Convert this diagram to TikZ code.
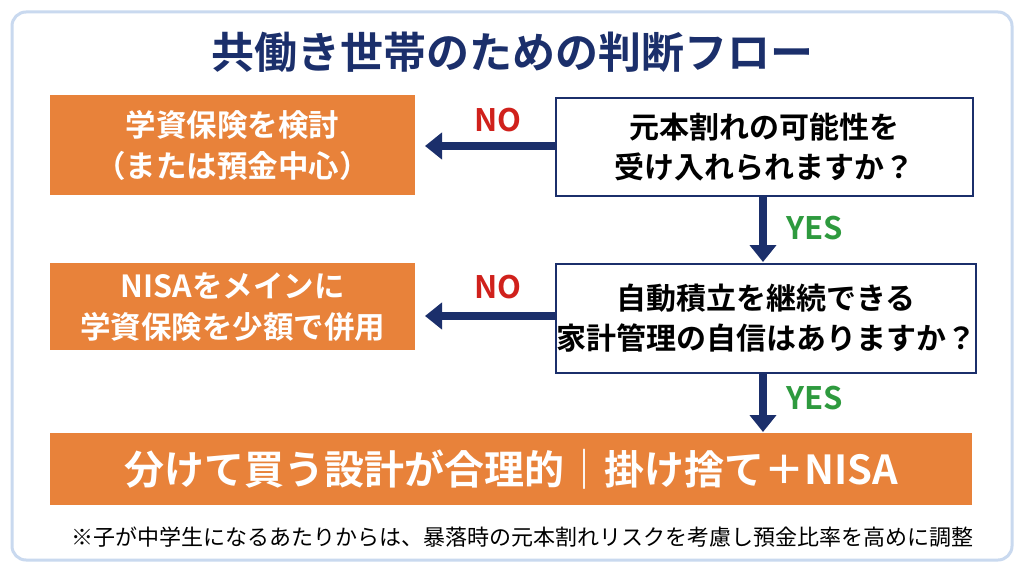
\documentclass[tikz,border=0pt]{standalone}
\usepackage{fontspec}
\setmainfont{Noto Sans CJK JP}[BoldFont={Noto Sans CJK JP Bold}]
\usetikzlibrary{arrows.meta}
\definecolor{navy}{HTML}{1B2F6B}
\definecolor{org}{HTML}{E8823A}
\definecolor{bord}{HTML}{C9D9EF}
\definecolor{nored}{HTML}{D0211C}
\definecolor{yesg}{HTML}{2E9A3E}
\begin{document}
\begin{tikzpicture}[x=1pt,y=-1pt,
  obox/.style={fill=org,draw=none,text=white,font=\bfseries\fontsize{30.5}{41}\selectfont,align=center,anchor=north west,inner sep=0},
  qbox/.style={fill=white,draw=navy,line width=2pt,font=\bfseries\fontsize{30}{40}\selectfont,align=center,anchor=north west,inner sep=0},
  arr/.style={draw=navy,line width=8pt,-{Triangle[length=17pt,width=26pt]}},
  lab/.style={font=\bfseries\fontsize{31}{34}\selectfont}]
\useasboundingbox (0,0) rectangle (1024,572);
\fill[white] (0,0) rectangle (1024,572);
\draw[bord,line width=3pt,rounded corners=14pt,fill=white] (12,12) rectangle (1012,560);
\node[font=\bfseries\fontsize{43}{50}\selectfont,text=navy] (title) at (512,52) {共働き世帯のための判断フロー};
\node[obox,minimum width=365pt,minimum height=100pt] (a1) at (50,95) {学資保険を検討\\（または預金中心）};
\node[qbox,minimum width=417pt,minimum height=98pt] (q1) at (555,97) {元本割れの可能性を\\受け入れられますか？};
\node[obox,minimum width=365pt,minimum height=87pt] (a2) at (50,263) {NISAをメインに\\学資保険を少額で併用};
\node[qbox,minimum width=417pt,minimum height=109pt] (q2) at (555,263) {自動積立を継続できる\\家計管理の自信はありますか？};
\node[obox,minimum width=922pt,minimum height=72pt,font=\bfseries\fontsize{40}{48}\selectfont] (res) at (50,433) {分けて買う設計が合理的｜掛け捨て＋NISA};
\draw[arr] (q1.west |- 0,146) -- (425,146);
\draw[arr] (q2.west |- 0,316) -- (425,316);
\draw[arr] (763,195) -- (763,262);
\draw[arr] (763,372) -- (763,432);
\node[lab,text=nored] (n1) at (498,120) {NO};
\node[lab,text=nored] (n2) at (498,287) {NO};
\node[lab,text=yesg] (y1) at (815,228) {YES};
\node[lab,text=yesg] (y2) at (815,398) {YES};
\node[font=\fontsize{22}{26}\selectfont] (fn) at (522,537) {※子が中学生になるあたりからは、暴落時の元本割れリスクを考慮し預金比率を高めに調整};
\end{tikzpicture}
\end{document}
